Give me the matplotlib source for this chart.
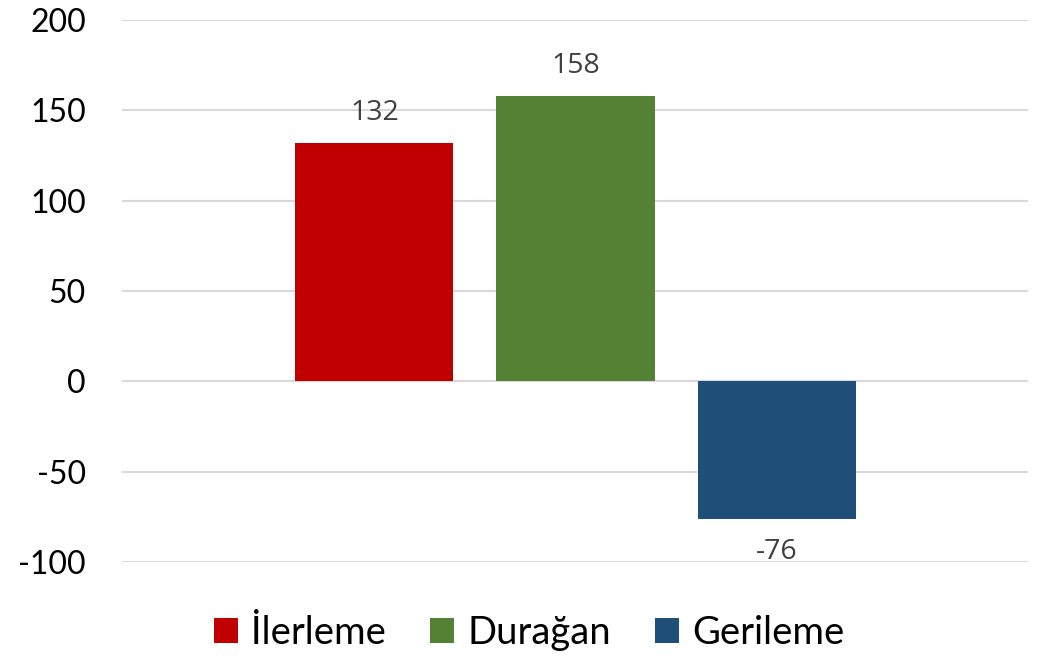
import matplotlib.pyplot as plt
from matplotlib.patches import Patch

categories = ["İlerleme", "Durağan", "Gerileme"]
values = [132, 158, -76]
colors = ["#C00000", "#548235", "#1F4E79"]
yticks = [-100, -50, 0, 50, 100, 150, 200]

fig = plt.figure(figsize=(10.42, 6.57), dpi=100)
ax = fig.add_axes([122 / 1042, 1 - 562 / 657, (1028 - 122) / 1042, (562 - 20) / 657])

x = range(len(values))
bars = ax.bar(x, values, width=0.786, color=colors, zorder=3)

ax.set_xlim(-1.255, 3.25)
ax.set_ylim(-100, 200)
ax.set_yticks(yticks)
ax.set_yticklabels([str(t) for t in yticks], fontfamily="Lato", fontsize=23)
ax.set_xticks([])
ax.tick_params(axis="y", length=0, pad=26)
ax.grid(axis="y", color="#d9d9d9", linewidth=1.5, zorder=0)
for s in ax.spines.values():
    s.set_visible(False)

for b, v in zip(bars, values):
    off = 30 if v >= 0 else -33
    ax.annotate(str(v), (b.get_x() + b.get_width() / 2, v), xytext=(0, off * 0.72),
                textcoords="offset points", ha="center", va="center",
                fontfamily="Open Sans", fontsize=20.5, color="#404040")

handles = [Patch(facecolor=c, label=l) for c, l in zip(colors, categories)]
fig.legend(handles=handles, loc="center", bbox_to_anchor=(529 / 1042, 1 - 633 / 657),
           ncol=3, frameon=False, prop={"family": "Lato", "size": 27.5},
           handlelength=0.63, handleheight=0.63, handletextpad=0.35,
           columnspacing=1.15, borderaxespad=0)

fig.savefig("out.png", dpi=100)
